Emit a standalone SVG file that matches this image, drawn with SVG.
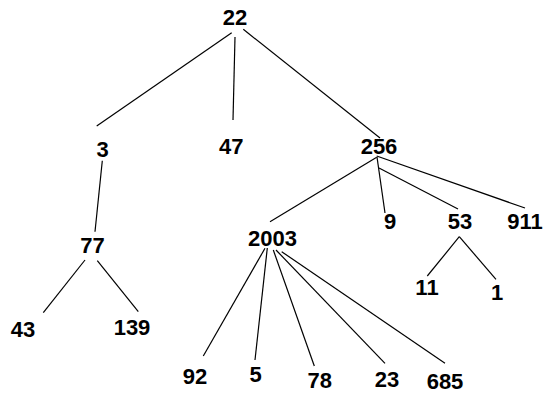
<svg xmlns="http://www.w3.org/2000/svg" width="545" height="394" viewBox="0 0 545 394">
<style>
.n text{font-family:"Liberation Sans",Arial,sans-serif;font-weight:bold;font-size:22px;fill:#000;text-anchor:middle}
.e line{stroke:#000;stroke-width:1.2;fill:none}
</style>
<rect width="545" height="394" fill="#fff"/>
<g class="e" id="edges">
<line x1="231.7" y1="32.7" x2="96.7" y2="126"/>
<line x1="235" y1="37" x2="233" y2="120"/>
<line x1="243.3" y1="29.3" x2="380" y2="138"/>
<line x1="376.7" y1="157.3" x2="270" y2="221.7"/>
<line x1="377" y1="157" x2="385" y2="213"/>
<line x1="379" y1="168" x2="458" y2="209"/>
<line x1="376.7" y1="156" x2="525" y2="208"/>
<line x1="102.3" y1="160.7" x2="95" y2="231.7"/>
<line x1="85" y1="260" x2="43.3" y2="312.7"/>
<line x1="97.3" y1="260.7" x2="138.3" y2="311.7"/>
<line x1="265" y1="248.3" x2="203.3" y2="356"/>
<line x1="267.3" y1="248" x2="255" y2="360"/>
<line x1="273.3" y1="250" x2="314.3" y2="366"/>
<line x1="276" y1="250" x2="385" y2="363.3"/>
<line x1="281.7" y1="251.7" x2="445" y2="363.3"/>
<line x1="459.3" y1="236.7" x2="427.3" y2="276"/>
<line x1="459.3" y1="236.7" x2="496" y2="279.3"/>
</g>
<g class="n" id="n22"><text x="235" y="25">22</text></g>
<g class="n" id="n3"><text x="102.5" y="157">3</text></g>
<g class="n" id="n47"><text x="231.3" y="154">47</text></g>
<g class="n" id="n256"><text x="379" y="154">256</text></g>
<g class="n" id="n77"><text x="92.5" y="253">77</text></g>
<g class="n" id="n43"><text x="23" y="337">43</text></g>
<g class="n" id="n139"><text x="132" y="335">139</text></g>
<g class="n" id="n2003"><text x="272.5" y="246">2003</text></g>
<g class="n" id="n9"><text x="390" y="229">9</text></g>
<g class="n" id="n53"><text x="460" y="229">53</text></g>
<g class="n" id="n911"><text x="525" y="229">911</text></g>
<g class="n" id="n11"><text x="427" y="295">11</text></g>
<g class="n" id="n1"><text x="497" y="300">1</text></g>
<g class="n" id="n92"><text x="195" y="384">92</text></g>
<g class="n" id="n5"><text x="255.5" y="382">5</text></g>
<g class="n" id="n78"><text x="319.7" y="388">78</text></g>
<g class="n" id="n23"><text x="387" y="387">23</text></g>
<g class="n" id="n685"><text x="445" y="389">685</text></g>
</svg>
